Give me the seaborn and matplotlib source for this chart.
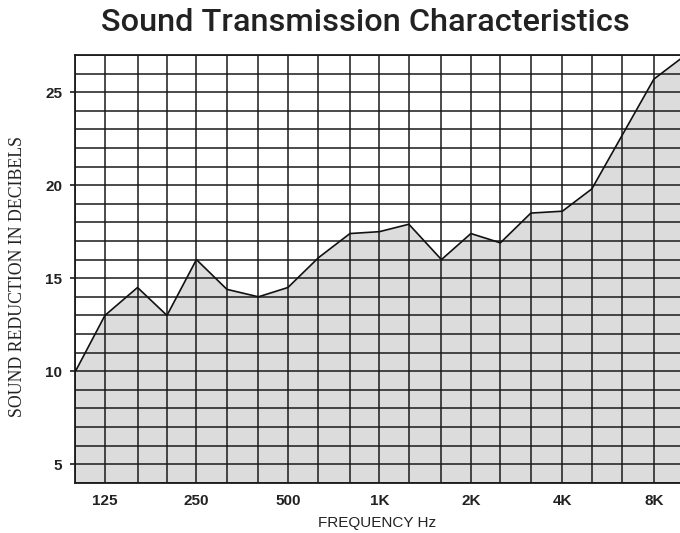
import numpy as np
import pandas as pd
import seaborn as sns
import matplotlib.pyplot as plt
from matplotlib.ticker import FixedLocator, NullFormatter

# 1/3 octave band centres and the measured reduction
freqs = [100, 125, 160, 200, 250, 315, 400, 500, 630, 800, 1000,
         1250, 1600, 2000, 2500, 3150, 4000, 5000, 6300, 8000, 10000]
reduction_db = [10.0, 13.0, 14.5, 13.0, 16.0, 14.4, 14.0, 14.5, 16.1, 17.4, 17.5,
                17.9, 16.0, 17.4, 16.9, 18.5, 18.6, 19.8, 22.7, 25.7, 26.9]

tick_freqs = [125, 250, 500, 1000, 2000, 4000, 8000]
tick_labels = ['125', '250', '500', '1K', '2K', '4K', '8K']
y_ticks = [5, 10, 15, 20, 25]
y_grid = list(range(4, 28))

df = pd.DataFrame({'freq': freqs, 'db': reduction_db})

sns.set_style('white')
plt.rcParams['font.family'] = ['Liberation Sans', 'DejaVu Sans']

fig = plt.figure(figsize=(6.8, 5.33), dpi=100)
ax = fig.add_axes([0.111, 0.094, 0.889, 0.803])

ax.fill_between(df['freq'], df['db'], 4, color='#dcdcdc', lw=0, zorder=0.2)
sns.lineplot(data=df, x='freq', y='db', color='#111111', lw=1.2, ax=ax, zorder=3)

ax.set_xscale('log')
ax.set_xlim(100, 9750)
ax.set_ylim(4, 27)

# grid on every band and every dB
ax.xaxis.set_major_locator(FixedLocator(tick_freqs))
ax.xaxis.set_minor_locator(FixedLocator(freqs))
ax.xaxis.set_minor_formatter(NullFormatter())
ax.set_xticklabels(tick_labels)
ax.yaxis.set_major_locator(FixedLocator(y_ticks))
ax.yaxis.set_minor_locator(FixedLocator(y_grid))
ax.grid(which='both', color='#1a1a1a', lw=1.1)
ax.set_axisbelow(True)

ax.tick_params(axis='x', which='both', length=0, pad=8, labelsize=11)
ax.tick_params(axis='y', which='major', length=3.5, width=1.2, color='#1a1a1a',
               direction='out', pad=6, labelsize=11, left=True)
ax.tick_params(axis='y', which='minor', length=0)
for lab in ax.get_xticklabels() + ax.get_yticklabels():
    lab.set_fontweight('bold')
    lab.set_color('#222222')

for side in ['left', 'bottom', 'top']:
    ax.spines[side].set_color('#1a1a1a')
    ax.spines[side].set_linewidth(1.3)
ax.spines['right'].set_visible(False)

ax.set_xlabel('')
ax.set_ylabel('')
fig.text(0.555, 0.019, 'FREQUENCY Hz', ha='center', va='center', fontsize=11, color='#222222')
fig.text(0.026, 0.482, 'SOUND REDUCTION IN DECIBELS', rotation=90, ha='center', va='center',
         fontsize=12.8, family='Liberation Serif', color='#222222')
fig.text(0.538, 0.957, 'Sound Transmission Characteristics', ha='center', va='center',
         fontsize=23.4, fontweight='medium', family=['Roboto', 'Liberation Sans'], color='#222222')

fig.savefig('out.png', dpi=100)
